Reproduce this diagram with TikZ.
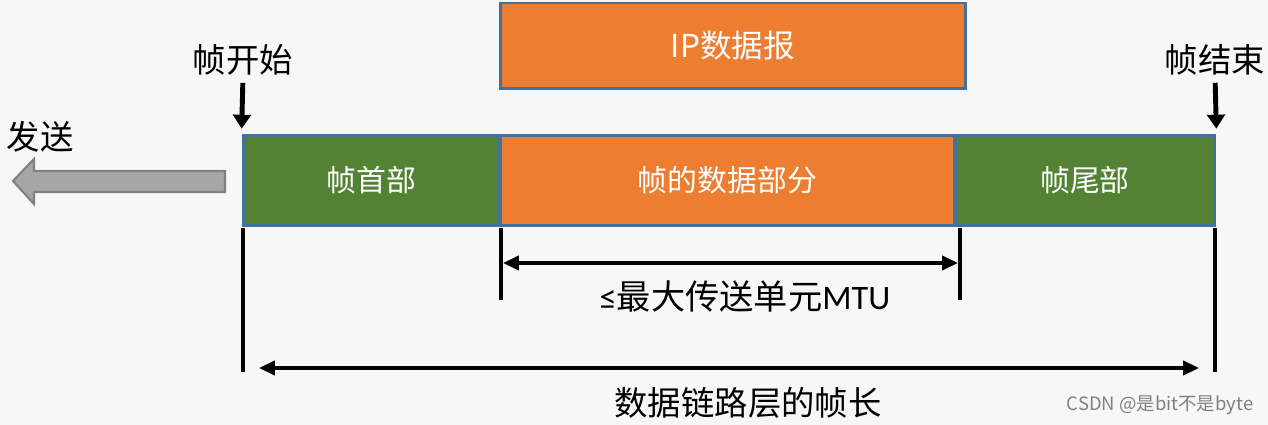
\documentclass[tikz,border=0pt]{standalone}
\usepackage{fontspec}
\setmainfont{Carlito}
\newfontfamily\cjk{Noto Sans CJK SC}
\usetikzlibrary{arrows.meta}
\definecolor{frameOrange}{HTML}{ED7D31}
\definecolor{frameGreen}{HTML}{548235}
\definecolor{frameEdge}{HTML}{41719C}
\newcommand{\boxfont}{\cjk\fontsize{17}{20}\selectfont}
\newcommand{\tagfont}{\cjk\fontsize{19}{22}\selectfont}

\begin{document}
\begin{tikzpicture}[x=0.02cm,y=-0.02cm,
	field/.style={draw=frameEdge,line width=1.7pt,text=white,minimum height=1.8cm,inner sep=0pt,font=\boxfont},
	tag/.style={inner sep=0pt,font=\tagfont},
	tick/.style={line width=2pt},
	span/.style={line width=2pt,{Triangle[length=9pt,width=8pt]}-{Triangle[length=9pt,width=8pt]}},
	marker/.style={line width=2.8pt,-{Triangle[length=8pt,width=10pt]}}]
	\fill[white!97!black] (0,0) rectangle (1268,425);
	\useasboundingbox (0,0) rectangle (1268,425);
	% the frame
	\node[field,fill=frameGreen,minimum width=5.14cm] (head) at (371.5,180.5) {帧首部};
	\node[field,fill=frameGreen,minimum width=5.2cm] (tail) at (1085,180.5) {帧尾部};
	\node[field,fill=frameOrange,minimum width=9.1cm] (data) at (727.5,180.5) {帧的数据部分};
	\node[field,fill=frameOrange,minimum width=9.32cm,minimum height=1.72cm,font=\cjk\fontsize{18}{21}\selectfont] (ip) at (733,46) {IP数据报};
	
	% start and end of frame
	\node[tag] (start) at (243,60) {帧开始};
	\node[tag] (stop) at (1215,60) {帧结束};
	\draw[marker,shorten <=4pt,shorten >=3pt] (start.south) -- (head.north west);
	\draw[marker,shorten <=4pt,shorten >=3pt] (stop.south) -- (tail.north east);
	
	% sending direction
	\node[tag] (send) at (40,137) {发送};
	\draw[fill=gray!70,draw=gray,line width=1.2pt] (13,181) -- (34,159) -- (34,171) -- (225,171) -- (225,192) -- (34,192) -- (34,204) -- cycle;
	
	% ticks
	\draw[tick] (243,228) -- (243,372);
	\draw[tick] (501,228) -- (501,300);
	\draw[tick] (960,228) -- (960,300);
	\draw[tick] (1215,228) -- (1215,372);
	
	% MTU
	\coordinate (mtuL) at (503,263);
	\coordinate (mtuR) at (958,263);
	\draw[span] (mtuL) -- (mtuR);
	\node[tag,font=\cjk\fontsize{19.5}{22}\selectfont] (mtu) at (745,297) {{\rmfamily ≤}最大传送单元{\rmfamily MTU}};
	
	% frame length
	\coordinate (lenL) at (259,368);
	\coordinate (lenR) at (1199,368);
	\draw[span] (lenL) -- (lenR);
	\node[tag] (len) at (748,403) {数据链路层的帧长};
	
	\node[inner sep=0pt,text=gray,font=\cjk\fontsize{10.5}{12}\selectfont] (mark) at (1160,405) {CSDN @是bit不是byte};
\end{tikzpicture}
\end{document}
